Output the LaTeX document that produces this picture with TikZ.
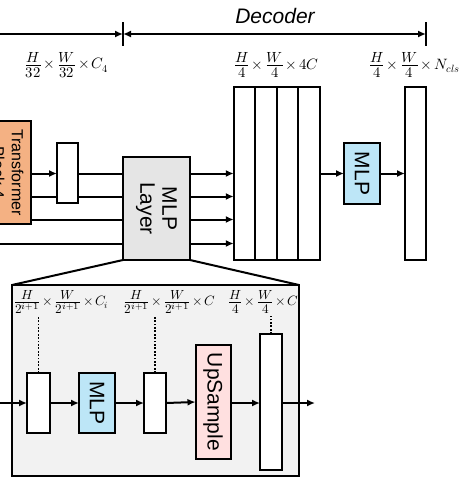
\documentclass[tikz,border=0pt]{standalone}
\usepackage{graphicx}
\usepackage{fontspec}
\usepackage{unicode-math}
\setsansfont{Liberation Sans}
\setmathfont{Latin Modern Math}
\usetikzlibrary{arrows.meta,calc}
\definecolor{tforange}{HTML}{F4B183}
\definecolor{mlpblue}{HTML}{BDE6F7}
\definecolor{uppink}{HTML}{FFE0E0}
\newcommand{\tms}{\mskip2mu{\times}\mskip2mu}
\newcommand{\sfr}[2]{\raisebox{-0.1em}{\scalebox{1.4}{$\frac{#1}{#2}$}}}

\begin{document}
\begin{tikzpicture}[x=1pt,y=-1pt,line width=2pt,
  >={Latex[length=8pt,width=7pt]},
  blk/.style={draw,rectangle,inner sep=0pt,outer sep=0pt},
  dim/.style={font=\fontsize{15}{18}\selectfont,inner sep=1pt},
  sdim/.style={font=\fontsize{13.5}{16}\selectfont,inner sep=1pt},
  rtxt/.style={rotate=-90,align=center,font=\sffamily\fontsize{21}{22}\selectfont},
  dots/.style={line width=1.8pt,dash pattern=on 1.8pt off 1.6pt}]
\useasboundingbox (0,0) rectangle (466,485);
\clip (0,0) rectangle (466,485);
% Encoder / decoder span at the top
\coordinate (enc) at (-5,34);
\coordinate (d0) at (123,34);
\coordinate (d1) at (426,34);
\draw[->] (enc) -- (d0);
\draw[<->] (d0) -- (d1);
\draw ([yshift=12pt]d0) -- ([yshift=-12pt]d0);
\draw ([yshift=12pt]d1) -- ([yshift=-12pt]d1);
\node[font=\sffamily\itshape\fontsize{21}{22}\selectfont] (dec) at (275,16) {Decoder};
% Feature sizes
\node[dim] (s1) at (66,65) {$\sfr{H}{32}\tms\sfr{W}{32}\tms C_4$};
\node[dim] (s2) at (276,65) {$\sfr{H}{4}\tms\sfr{W}{4}\tms 4C$};
\node[dim] (s3) at (414,65) {$\sfr{H}{4}\tms\sfr{W}{4}\tms N_{cls}$};
% Last transformer block, cut at the left edge
\node[blk,fill=tforange,minimum width=46pt,minimum height=103pt,
  label={[rtxt,font=\sffamily\fontsize{16}{19}\selectfont]center:Transformer\\Block 4}] (tb) at (8,172.5) {};
% Feature map of stage 4
\node[blk,fill=white,minimum width=21pt,minimum height=60pt] (sb) at (67.5,173) {};
% MLP layer
\node[blk,fill=gray!20,minimum width=67pt,minimum height=103pt,
  label={[rtxt]center:MLP\\Layer}] (mlpl) at (156.5,208.5) {};
\foreach \i/\d in {1/35,2/12,3/-11,4/-35} {
  \coordinate (l\i) at ([yshift=\d pt]mlpl.west);
  \coordinate (r\i) at ([yshift=\d pt]mlpl.east);
}
\coordinate (lft) at (-5,0);
\draw[->] (tb.east |- l1) -- (sb.west |- l1);
\draw (sb.east |- l1) -- (l1);
\draw (tb.east |- l2) -- (sb.west |- l2);
\draw (sb.east |- l2) -- (l2);
\draw (tb.east |- l3) -- (l3);
\draw (lft |- l4) -- (l4);
% Concatenated features
\foreach \i in {1,...,4}
  \node[blk,minimum width=21.5pt,minimum height=173pt] (c\i) at (223+21.5*\i,173.5) {};
\foreach \i in {1,...,4}
  \draw[->] (r\i) -- (r\i -| c1.west);
% Final MLP and output
\node[blk,fill=mlpblue,minimum width=36pt,minimum height=61pt,
  label={[rtxt]center:MLP}] (mlp) at (362,173.5) {};
\node[blk,minimum width=21pt,minimum height=173pt] (out) at (415.5,173.5) {};
\draw[->] (c4.east) -- (mlp.west);
\draw[->] (mlp.east) -- (out.west);
% Zoomed view of the MLP layer
\node[blk,fill=gray!10,minimum width=287pt,minimum height=191pt] (ins) at (155.5,380.5) {};
\draw (mlpl.south west) -- (ins.north west);
\draw (mlpl.south east) -- (ins.north east);
\node[blk,fill=white,minimum width=23pt,minimum height=60pt] (b1) at (38.5,403) {};
\node[blk,fill=mlpblue,minimum width=36pt,minimum height=60pt,
  label={[rtxt]center:MLP}] (m2) at (97,403) {};
\node[blk,fill=white,minimum width=22pt,minimum height=60pt] (b2) at (155,403) {};
\node[blk,fill=uppink,minimum width=35pt,minimum height=114pt,
  label={[rtxt]center:UpSample}] (up) at (213,402) {};
\node[blk,fill=white,minimum width=22pt,minimum height=136pt] (b3) at (271,402) {};
\coordinate (inl) at (-5,403);
\coordinate (outr) at (315,403);
\draw[->] (inl) -- (b1.west);
\draw[->] (b1.east) -- (m2.west);
\draw[->] (m2.east) -- (b2.west);
\draw[->] (b2.east) -- (up.west);
\draw[->] (up.east |- outr) -- (b3.west |- outr);
\draw[->] (b3.east |- outr) -- (outr);
% Sizes inside the MLP layer
\node[sdim] (lab1) at (61,302) {$\sfr{H}{2^{i+1}}\tms\sfr{W}{2^{i+1}}\tms C_i$};
\node[sdim] (lab2) at (169,302) {$\sfr{H}{2^{i+1}}\tms\sfr{W}{2^{i+1}}\tms C$};
\node[sdim] (lab3) at (263,302) {$\sfr{H}{4}\tms\sfr{W}{4}\tms C$};
\draw[dots] (b1.north) -- (b1.north |- lab1.south);
\draw[dots] (b2.north) -- (b2.north |- lab2.south);
\draw[dots] (b3.north) -- (b3.north |- lab3.south);
\end{tikzpicture}
\end{document}
